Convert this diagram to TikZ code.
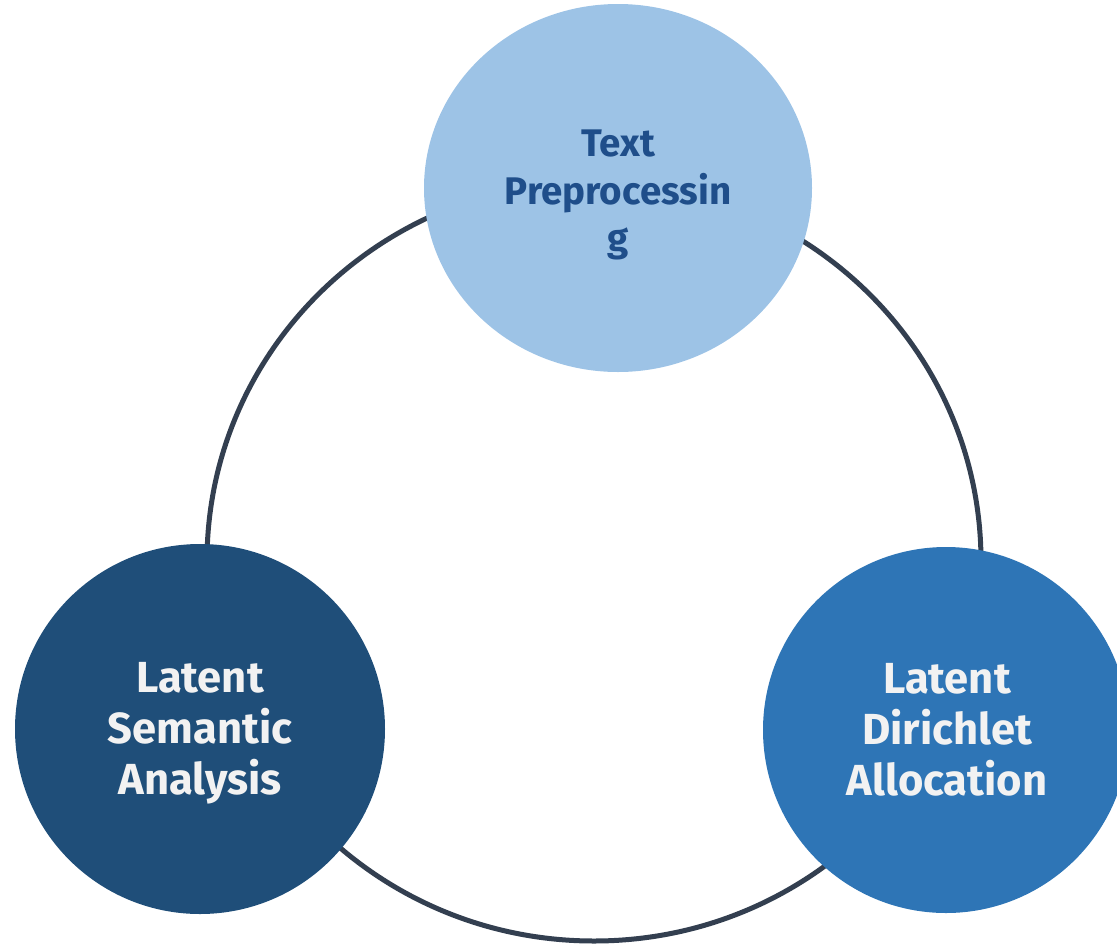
\documentclass[tikz,border=0pt]{standalone}
\usepackage{fontspec}
\setmainfont{Fira Sans}
\usetikzlibrary{shapes.geometric}
\definecolor{ringcol}{HTML}{333F50}
\definecolor{topfill}{HTML}{9DC3E6}
\definecolor{toptext}{HTML}{1F4E8A}
\definecolor{leftfill}{HTML}{1F4E79}
\definecolor{rightfill}{HTML}{2E75B6}
\definecolor{lighttext}{HTML}{F2F2F2}
\tikzset{
  ring/.style={draw=ringcol, line width=5pt},
  bigtext/.style={font=\fontsize{43.5}{51}\selectfont\bfseries, text=lighttext, align=center},
  toplabel/.style={font=\fontsize{38.5}{47.5}\selectfont\bfseries, text=toptext, align=center},
}
\begin{document}
\begin{tikzpicture}[x=1pt,y=-1pt]
\useasboundingbox (0,0) rectangle (1117,946);
\clip (0,0) rectangle (1117,946);
\node[ring, ellipse, minimum width=774pt, minimum height=760pt, inner sep=0pt] (ring) at (594,561) {};
\fill[topfill] (618,188) ellipse [x radius=194pt, y radius=184pt];
\fill[leftfill] (200,729) circle [radius=185pt];
\fill[rightfill] (946,730) circle [radius=183pt];
\node[toplabel] (tp) at (618,195) {Text\\Preprocessin\\g};
\node[bigtext] (lsa) at (200,733) {Latent\\Semantic\\Analysis};
\node[bigtext] (lda) at (947,730) {Latent\\Dirichlet\\Allocation};
\end{tikzpicture}
\end{document}
